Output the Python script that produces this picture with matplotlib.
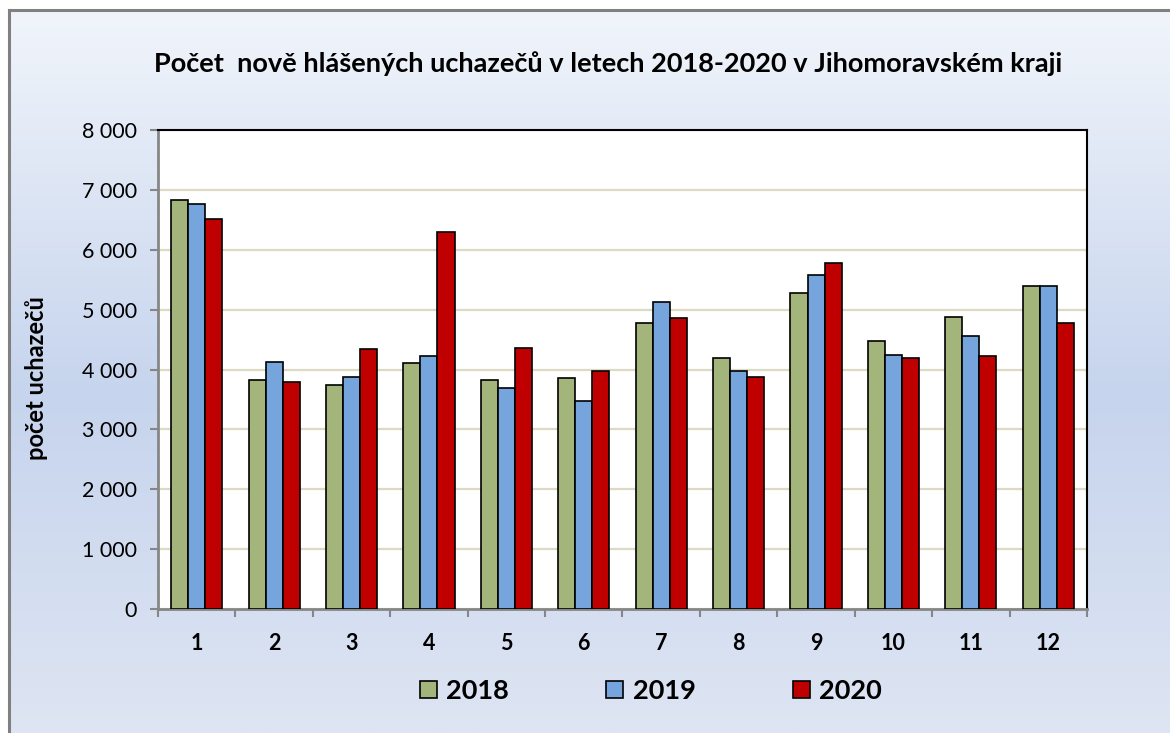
import numpy as np
import matplotlib
matplotlib.use("Agg")
import matplotlib.pyplot as plt
from matplotlib.colors import LinearSegmentedColormap
from matplotlib.lines import Line2D
from matplotlib.ticker import FuncFormatter, FixedLocator

# =========================
# DATA
# =========================
months = ["1", "2", "3", "4", "5", "6", "7", "8", "9", "10", "11", "12"]
years = ["2018", "2019", "2020"]
v2018 = [6825, 3823, 3739, 4107, 3817, 3850, 4771, 4185, 5273, 4481, 4872, 5391]
v2019 = [6763, 4118, 3878, 4219, 3694, 3482, 5123, 3968, 5586, 4247, 4554, 5396]
v2020 = [6512, 3783, 4342, 6295, 4353, 3979, 4866, 3878, 5787, 4196, 4224, 4782]

title = "Počet  nově hlášených uchazečů v letech 2018-2020 v Jihomoravském kraji"
ylabel = "počet uchazečů"

colors = ["#A3B57A", "#76A4DC", "#C00000"]
FONT = "Lato"

# =========================
# FIGURE + BACKGROUND
# =========================
W, H, DPI = 1170, 733, 100
fig = plt.figure(figsize=(W / DPI, H / DPI), dpi=DPI)
fig.patch.set_facecolor("white")

bg = fig.add_axes([9 / W, 0, 1 - 9 / W, 1 - 10 / H], zorder=-10)
bg.set_axis_off()
cmap = LinearSegmentedColormap.from_list(
    "bg",
    [(0.0, (241 / 255, 245 / 255, 251 / 255)),
     (0.53, (198 / 255, 212 / 255, 237 / 255)),
     (1.0, (222 / 255, 229 / 255, 243 / 255))],
)
grad = np.linspace(0, 1, 256).reshape(-1, 1)
bg.imshow(grad, aspect="auto", cmap=cmap, extent=[0, 1, 0, 1], origin="upper")

# gray outer border (left + top only, chart is cropped)
fig.add_artist(Line2D([9 / W, 9 / W], [0, 1 - 10 / H], color="#808080", lw=2.2))
fig.add_artist(Line2D([9 / W, 1], [1 - 10 / H, 1 - 10 / H], color="#808080", lw=2.2))

# =========================
# BARS
# =========================
ax = fig.add_axes([158 / W, (H - 609) / H, (1087 - 158) / W, (609 - 130) / H])
ax.set_facecolor("white")

x = np.arange(1, len(months) + 1)
bw = 0.22
for i, (vals, c, lab) in enumerate(zip([v2018, v2019, v2020], colors, years)):
    ax.bar(x + (i - 1) * bw, vals, width=bw, color=c, edgecolor="black",
           linewidth=1.2, label=lab, zorder=3)

ax.set_xlim(0.5, 12.5)
ax.set_ylim(0, 8000)
ax.set_yticks(range(0, 8001, 1000))
ax.yaxis.set_major_formatter(FuncFormatter(lambda v, p: f"{int(v):,}".replace(",", " ")))
ax.grid(axis="y", color="#DDDAC4", linewidth=1.6, zorder=0)

ax.set_xticks(x)
ax.set_xticklabels(months, fontfamily=FONT, fontweight="bold", fontsize=15.5)
ax.xaxis.set_minor_locator(FixedLocator(np.arange(0.5, 12.6, 1)))
ax.tick_params(axis="x", which="major", length=0, pad=17)
ax.tick_params(axis="x", which="minor", length=6, width=1.5, color="#868686")
ax.tick_params(axis="y", length=6, width=1.5, color="#868686", pad=9,
               labelsize=15.5)
for lbl in ax.get_yticklabels():
    lbl.set_fontfamily(FONT)

for s in ["left", "bottom"]:
    ax.spines[s].set_color("#868686")
    ax.spines[s].set_linewidth(2)
for s in ["top", "right"]:
    ax.spines[s].set_color("black")
    ax.spines[s].set_linewidth(1.5)

ax.set_ylabel(ylabel, fontfamily=FONT, fontweight="bold", fontsize=17)
ax.yaxis.set_label_coords((48 - 158) / (1087 - 158), (609 - 378) / (609 - 130))

fig.text(608 / W, 1 - 64 / H, title, ha="center", va="center",
         fontfamily=FONT, fontweight="bold", fontsize=19.5)

leg = fig.legend(loc="center", bbox_to_anchor=(651 / W, 1 - 691 / H), ncol=3,
                 frameon=False, handlelength=0.62, handleheight=0.62,
                 handletextpad=0.35, columnspacing=3.6,
                 prop={"family": FONT, "weight": "bold", "size": 19.5})

plt.savefig("out.png", dpi=DPI)
